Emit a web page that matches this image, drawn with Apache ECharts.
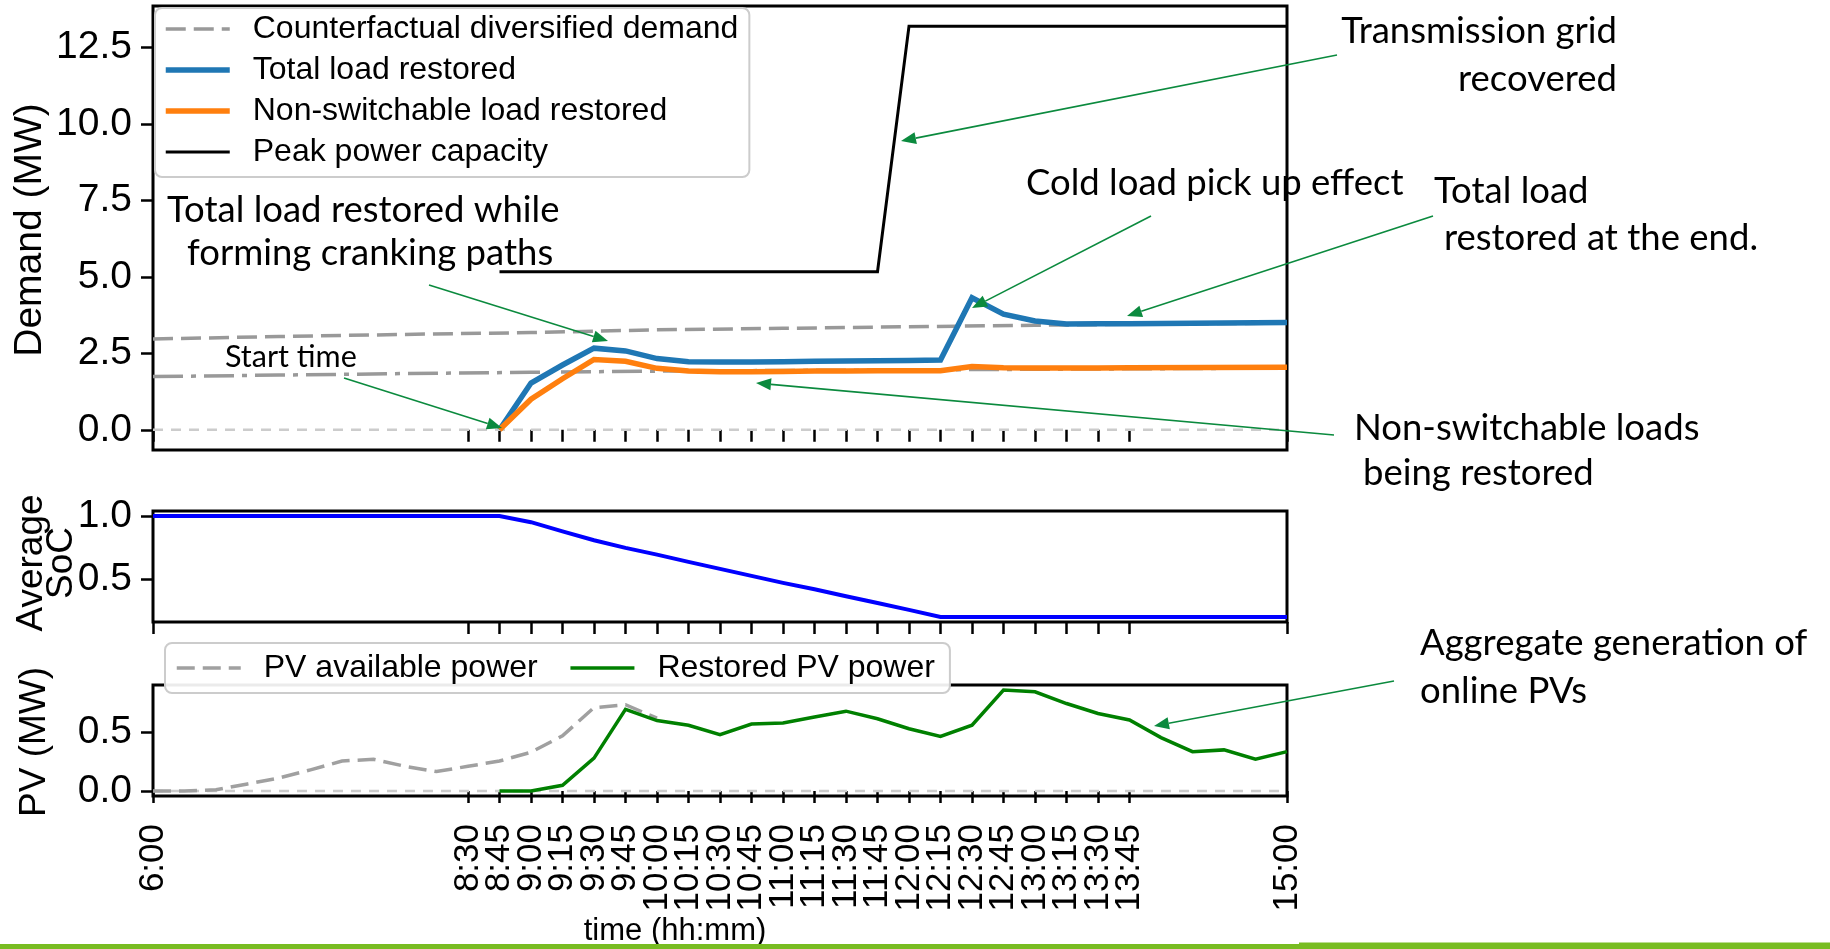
<!DOCTYPE html>
<html>
<head>
<meta charset="utf-8">
<title>Load restoration with PV and storage</title>
<script src="https://cdn.jsdelivr.net/npm/echarts@6/dist/echarts.min.js"></script>
<style>
  html, body { margin: 0; padding: 0; background: #ffffff; }
  #chart { width: 1830px; height: 949px; }
</style>
</head>
<body>
<div id="chart"></div>
<script>
// ---- Time axis (hh:mm) ----
const tickLabels = ['6:00', '8:30', '8:45', '9:00', '9:15', '9:30', '9:45', '10:00', '10:15', '10:30', '10:45',
  '11:00', '11:15', '11:30', '11:45', '12:00', '12:15', '12:30', '12:45', '13:00', '13:15', '13:30', '13:45', '15:00'];

// ---- Demand panel (MW) ----
const loadTimes = ['8:45', '9:00', '9:15', '9:30', '9:45', '10:00', '10:15', '10:30', '10:45', '11:00', '11:15',
  '11:30', '11:45', '12:00', '12:15', '12:30', '12:45', '13:00', '13:15', '13:30', '13:45', '15:00'];
const totalLoadRestored = [0.0, 1.53, 2.12, 2.67, 2.58, 2.33, 2.23, 2.22, 2.22, 2.23, 2.24,
  2.25, 2.26, 2.27, 2.28, 4.32, 3.78, 3.56, 3.46, 3.47, 3.47, 3.51];
const nonSwitchableRestored = [0.0, 1.0, 1.67, 2.30, 2.24, 2.01, 1.92, 1.90, 1.90, 1.91, 1.92,
  1.92, 1.93, 1.93, 1.93, 2.07, 2.03, 2.02, 2.02, 2.02, 2.03, 2.05];

const capacityTimes = ['8:45', '11:45', '12:00', '15:00'];
const peakCapacity = [5.17, 5.17, 13.2, 13.2];

const demandTimes = ['6:00', '7:00', '8:00', '9:00', '10:00', '11:00', '12:00', '13:00', '14:00', '15:00'];
const counterfactualDemand = [2.97, 3.05, 3.12, 3.18, 3.27, 3.32, 3.37, 3.42, 3.46, 3.49];
const counterfactualNonSwitchable = [1.74, 1.79, 1.84, 1.88, 1.92, 1.94, 1.96, 1.98, 2.00, 2.02];

const baselineTimes = ['6:00', '15:00'];
const baselineValues = [0, 0];

// ---- Storage panel ----
const socTimes = ['6:00', '8:45', '9:00', '9:15', '9:30', '9:45', '10:00', '10:15', '10:30', '10:45', '11:00',
  '11:15', '11:30', '11:45', '12:00', '12:15', '15:00'];
const averageSoC = [1.0, 1.0, 0.952, 0.88, 0.81, 0.75, 0.697, 0.64, 0.585, 0.53, 0.475,
  0.425, 0.37, 0.317, 0.262, 0.207, 0.207];

// ---- PV panel (MW) ----
const pvAvailTimes = ['6:00', '6:15', '6:30', '6:45', '7:00', '7:15', '7:30', '7:45', '8:00', '8:15', '8:30',
  '8:45', '9:00', '9:15', '9:30', '9:45', '10:00'];
const pvAvailable = [0.0, 0.0, 0.01, 0.06, 0.11, 0.18, 0.255, 0.27, 0.21, 0.165, 0.21,
  0.255, 0.33, 0.47, 0.71, 0.735, 0.62];

const pvTimes = ['8:45', '9:00', '9:15', '9:30', '9:45', '10:00', '10:15', '10:30', '10:45', '11:00', '11:15',
  '11:30', '11:45', '12:00', '12:15', '12:30', '12:45', '13:00', '13:15', '13:30', '13:45', '14:00',
  '14:15', '14:30', '14:45', '15:00'];
const pvRestored = [0.0, 0.0, 0.048, 0.28, 0.695, 0.60, 0.56, 0.48, 0.57, 0.58, 0.63,
  0.68, 0.615, 0.53, 0.465, 0.56, 0.86, 0.845, 0.745, 0.66, 0.605, 0.455,
  0.335, 0.35, 0.27, 0.335];

// ---- Axis tick values ----
const demandTicks = [0, 2.5, 5, 7.5, 10, 12.5];
const socTicks = [0.5, 1.0];
const pvTicks = [0, 0.5];

// ---- helpers ----
const toMin = s => { const p = s.split(':').map(Number); return p[0] * 60 + p[1]; };
const pairs = (times, vals) => times.map((t, i) => [toMin(t), vals[i]]);
const tickMinutes = tickLabels.map(toMin);

const SANS = 'Liberation Sans';
const NOTE = 'Lato';
const NOTE_GREEN = '#0b8a3e';

// line styles shared by series and their legend samples
const STYLE = {
  baseline: { color: '#cccccc', width: 2.5, type: [10, 8] },
  counterfactual: { color: '#999999', width: 3.5, type: [20, 8] },
  counterfactualNS: { color: '#999999', width: 3.5, type: [30, 8, 5, 8] },
  total: { color: '#1f77b4', width: 5.5, type: 'solid' },
  nonSwitch: { color: '#ff7f0e', width: 5.5, type: 'solid' },
  capacity: { color: '#000000', width: 3, type: 'solid' },
  soc: { color: '#0000ff', width: 4, type: 'solid' },
  pvAvail: { color: '#a0a0a0', width: 3.5, type: [18, 8] },
  pvRestored: { color: '#008000', width: 3.5, type: 'solid' }
};

const chart = echarts.init(document.getElementById('chart'), null, { renderer: 'canvas' });

const gridBox = { left: 153, width: 1134, show: true, borderColor: '#000', borderWidth: 3, backgroundColor: 'transparent' };

function xAxisFor(gridIndex, withLabels) {
  return {
    type: 'value', gridIndex, min: toMin('6:00'), max: toMin('15:00'),
    splitLine: { show: false },
    axisLine: { show: false },
    axisTick: { show: true, inside: false, length: 12, customValues: tickMinutes, lineStyle: { color: '#000', width: 2.5 } },
    axisLabel: {
      show: withLabels, customValues: tickMinutes, rotate: 90, margin: 28,
      fontFamily: SANS, fontSize: 35, color: '#000',
      formatter: v => tickLabels[tickMinutes.indexOf(v)] || ''
    }
  };
}

function yAxisFor(gridIndex, min, max, ticks) {
  return {
    type: 'value', gridIndex, min, max,
    splitLine: { show: false },
    axisLine: { show: false },
    axisTick: { show: true, inside: false, length: 12, customValues: ticks, lineStyle: { color: '#000', width: 2.5 } },
    axisLabel: {
      customValues: ticks, margin: 21, fontFamily: SANS, fontSize: 39, color: '#000',
      formatter: v => v.toFixed(1)
    }
  };
}

function lineSeries(name, xi, data, st, z) {
  return {
    name, type: 'line', xAxisIndex: xi, yAxisIndex: xi, data,
    symbol: 'none', showSymbol: false, clip: true, z: z || 2,
    lineStyle: { color: st.color, width: st.width, type: st.type, cap: 'butt', join: 'miter' },
    itemStyle: { color: st.color },
    emphasis: { disabled: true }
  };
}

// legend entry drawn as a plain line sample (no marker)
function legendItem(name, st) {
  return {
    name,
    itemStyle: { color: 'transparent', borderColor: 'transparent', borderWidth: 0, opacity: 0 },
    lineStyle: { color: st.color, width: st.width, type: st.type, opacity: 1 }
  };
}

// ---- annotations: text blocks and arrows ----
function textEl(text, x, y, size, align) {
  return {
    type: 'text', x, y, z: 50,
    style: { text, fontFamily: NOTE, fontSize: size, fill: '#000', align: align || 'left', verticalAlign: 'middle' }
  };
}
function arrowEls(x1, y1, x2, y2) {
  const a = Math.atan2(y2 - y1, x2 - x1);
  const L = 15, W = 6;
  const bx = x2 - L * Math.cos(a), by = y2 - L * Math.sin(a);
  return [
    { type: 'line', z: 50, shape: { x1, y1, x2: bx, y2: by }, style: { stroke: NOTE_GREEN, lineWidth: 1.6 } },
    { type: 'polygon', z: 50, shape: { points: [[x2, y2], [bx - W * Math.sin(a), by + W * Math.cos(a)], [bx + W * Math.sin(a), by - W * Math.cos(a)]] },
      style: { fill: NOTE_GREEN } }
  ];
}

const NOTE_SIZE = 36.5;

const graphics = [
  // axis titles
  { type: 'text', x: 30, y: 230, rotation: Math.PI / 2, z: 40,
    style: { text: 'Demand (MW)', fontFamily: SANS, fontSize: 39, fill: '#000', align: 'center', verticalAlign: 'middle' } },
  { type: 'text', x: 47, y: 563, rotation: Math.PI / 2, z: 40,
    style: { text: 'Average\nSoC', fontFamily: SANS, fontSize: 37, lineHeight: 30, fill: '#000', align: 'center', verticalAlign: 'middle' } },
  { type: 'text', x: 35, y: 742, rotation: Math.PI / 2, z: 40,
    style: { text: 'PV (MW)', fontFamily: SANS, fontSize: 37, fill: '#000', align: 'center', verticalAlign: 'middle' } },
  { type: 'text', x: 675, y: 931, z: 40,
    style: { text: 'time (hh:mm)', fontFamily: SANS, fontSize: 31, fill: '#000', align: 'center', verticalAlign: 'middle' } },

  // annotation texts
  textEl('Transmission grid', 1617, 31, NOTE_SIZE, 'right'),
  textEl('recovered', 1617, 79, NOTE_SIZE, 'right'),
  textEl('Cold load pick up effect', 1026, 183, NOTE_SIZE),
  textEl('Total load', 1434, 191, NOTE_SIZE),
  textEl('restored at the end.', 1444, 238, NOTE_SIZE),
  textEl('Total load restored while', 167, 210, NOTE_SIZE),
  textEl('forming cranking paths', 187, 253, NOTE_SIZE),
  textEl('Start time', 225, 357, 30.5),
  textEl('Non-switchable loads', 1354, 428, NOTE_SIZE),
  textEl('being restored', 1363, 473, NOTE_SIZE),
  textEl('Aggregate generation of', 1420, 643, NOTE_SIZE),
  textEl('online PVs', 1420, 691, NOTE_SIZE),

  // annotation arrows
  ...arrowEls(1337, 55, 901, 141),
  ...arrowEls(1151, 216, 972, 308),
  ...arrowEls(1433, 216, 1127, 316),
  ...arrowEls(429, 285, 608, 341),
  ...arrowEls(344, 378, 502, 428),
  ...arrowEls(1334, 435, 756, 383),
  ...arrowEls(1394, 681, 1154, 726),

  // footer band
  { type: 'rect', z: 40, shape: { x: 0, y: 944, width: 1830, height: 5 }, style: { fill: '#78bc22' } },
  { type: 'rect', z: 40, shape: { x: 1299, y: 942.5, width: 531, height: 2 }, style: { fill: '#78bc22' } }
];

const legendText = { fontFamily: SANS, fontSize: 32, color: '#000', lineHeight: 34, padding: [0, 0, 0, 18] };

const option = {
  animation: false,
  backgroundColor: '#ffffff',
  grid: [
    Object.assign({ top: 6, height: 444 }, gridBox),
    Object.assign({ top: 511, height: 111 }, gridBox),
    Object.assign({ top: 685, height: 111 }, gridBox)
  ],
  xAxis: [xAxisFor(0, false), xAxisFor(1, false), xAxisFor(2, true)],
  yAxis: [
    yAxisFor(0, -0.66, 13.86, demandTicks),
    yAxisFor(1, 0.167, 1.04, socTicks),
    yAxisFor(2, -0.043, 0.903, pvTicks)
  ],
  legend: [
    {
      orient: 'vertical', left: 155, top: 8, z: 20,
      itemWidth: 64, itemHeight: 14, itemGap: 7,
      padding: [4, 11, 8, 8],
      backgroundColor: 'rgba(255,255,255,0.9)', borderColor: '#cccccc', borderWidth: 2, borderRadius: 7,
      textStyle: legendText,
      selectedMode: false,
      data: [
        legendItem('Counterfactual diversified demand', STYLE.counterfactual),
        legendItem('Total load restored', STYLE.total),
        legendItem('Non-switchable load restored', STYLE.nonSwitch),
        legendItem('Peak power capacity', STYLE.capacity)
      ]
    },
    {
      orient: 'horizontal', left: 165, top: 643, z: 20,
      itemWidth: 64, itemHeight: 14, itemGap: 31,
      padding: [8, 15, 8, 10],
      backgroundColor: 'rgba(255,255,255,0.92)', borderColor: '#cccccc', borderWidth: 2, borderRadius: 7,
      textStyle: legendText,
      selectedMode: false,
      data: [
        legendItem('PV available power', STYLE.pvAvail),
        legendItem('Restored PV power', STYLE.pvRestored)
      ]
    }
  ],
  series: [
    // demand panel
    lineSeries('Demand baseline', 0, pairs(baselineTimes, baselineValues), STYLE.baseline, 1),
    lineSeries('Counterfactual diversified demand', 0, pairs(demandTimes, counterfactualDemand), STYLE.counterfactual, 2),
    lineSeries('Counterfactual non-switchable demand', 0, pairs(demandTimes, counterfactualNonSwitchable), STYLE.counterfactualNS, 2),
    lineSeries('Total load restored', 0, pairs(loadTimes, totalLoadRestored), STYLE.total, 3),
    lineSeries('Non-switchable load restored', 0, pairs(loadTimes, nonSwitchableRestored), STYLE.nonSwitch, 4),
    lineSeries('Peak power capacity', 0, pairs(capacityTimes, peakCapacity), STYLE.capacity, 5),
    // storage panel
    lineSeries('Average SoC', 1, pairs(socTimes, averageSoC), STYLE.soc, 3),
    // PV panel
    lineSeries('PV baseline', 2, pairs(baselineTimes, baselineValues), STYLE.baseline, 1),
    lineSeries('PV available power', 2, pairs(pvAvailTimes, pvAvailable), STYLE.pvAvail, 2),
    lineSeries('Restored PV power', 2, pairs(pvTimes, pvRestored), STYLE.pvRestored, 3)
  ],
  graphic: graphics
};

chart.setOption(option);
</script>
</body>
</html>
